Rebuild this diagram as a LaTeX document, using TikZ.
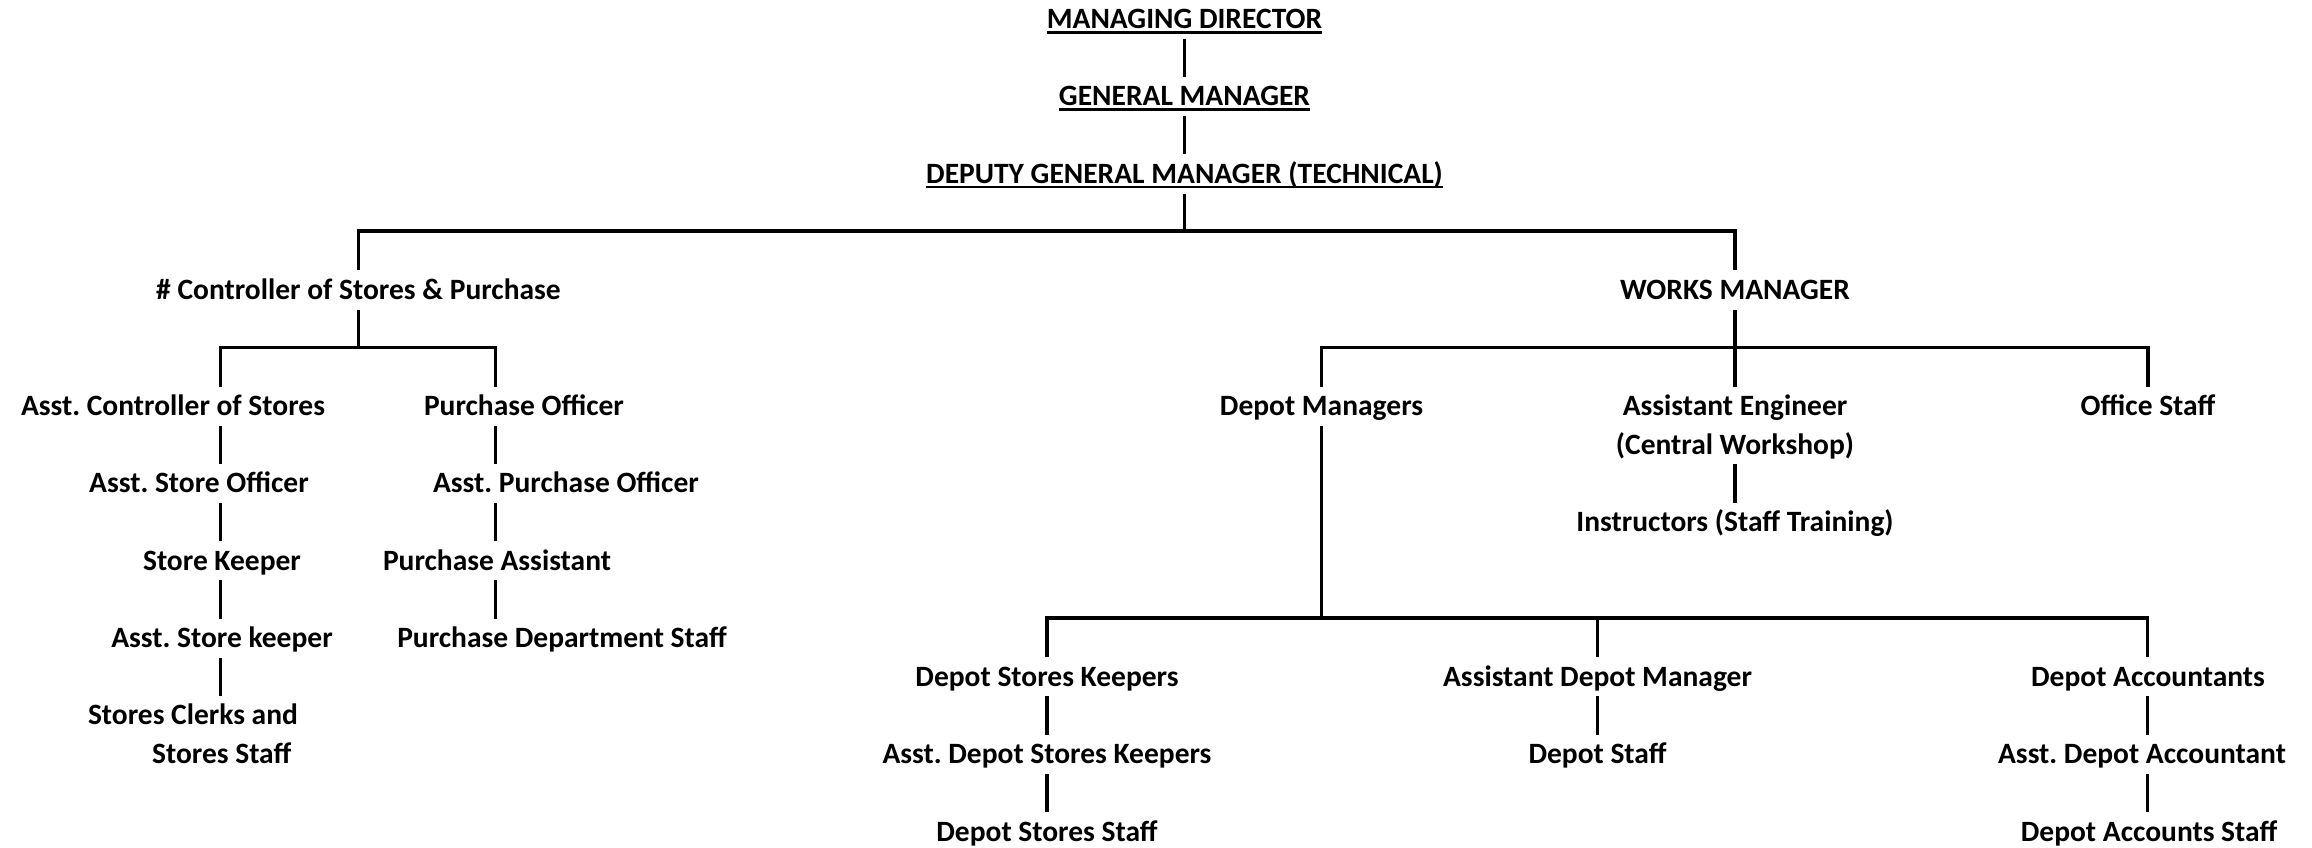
\documentclass[tikz,border=0pt]{standalone}
\usepackage{fontspec}
\setmainfont{Carlito}
\frenchspacing
\begin{document}
\begin{tikzpicture}[x=1pt,y=1pt,
  lbl/.style={inner sep=0pt, text height=28.65pt, text depth=10.05pt,
    font=\fontsize{29.5pt}{38.69pt}\selectfont\bfseries\frenchspacing},
  conn/.style={line width=3.3pt, line join=miter},
  uln/.style={line width=2.7pt}]
\useasboundingbox (0,0) rectangle (2312,-848);
\coordinate (colA) at (220.5,0);
\coordinate (colB) at (495.4,0);
\coordinate (colC) at (2147.7,0);
\coordinate (b1) at (0,-231);
\coordinate (b2) at (0,-347.5);
\coordinate (b3) at (0,-618);
% top
\node[lbl] (md)  at (1184.5,-19.2) {MANAGING DIRECTOR};
\node[lbl] (gm)  at (1184.5,-96.6) {GENERAL MANAGER};
\node[lbl] (dgm) at (1184.5,-174.0) {DEPUTY GENERAL MANAGER (TECHNICAL)};
\node[lbl] (ctrl) at (358.5,-290.0) {\# Controller of Stores \& Purchase};
\node[lbl] (wm)   at (1735,-290.0) {WORKS MANAGER};
% row 10
\node[lbl] (acs) at (173,-406.1) {Asst. Controller of Stores};
\node[lbl] (po)  at (524,-406.1) {Purchase Officer};
\node[lbl] (dm)  at (1321.5,-406.1) {Depot Managers};
\node[lbl] (ae1) at (1735,-406.1) {Assistant Engineer};
\node[lbl] (os)  at (2148,-406.1) {Office Staff};
\node[lbl] (ae2) at (1735,-444.8) {(Central Workshop)};
\node[lbl] (aso) at (199,-483.5) {Asst. Store Officer};
\node[lbl] (apo) at (566,-483.5) {Asst. Purchase Officer};
\node[lbl] (instr) at (1735,-522.2) {Instructors (Staff Training)};
\node[lbl] (sk)  at (222,-560.9) {Store Keeper};
\node[lbl] (pa)  at (497,-560.9) {Purchase Assistant};
\node[lbl] (ask) at (222,-638.2) {Asst. Store keeper};
\node[lbl] (pds) at (562,-638.2) {Purchase Department Staff};
\node[lbl] (dsk) at (1047,-676.9) {Depot Stores Keepers};
\node[lbl] (adm) at (1597.5,-676.9) {Assistant Depot Manager};
\node[lbl] (da)  at (2148,-676.9) {Depot Accountants};
\node[lbl] (sc1) at (193,-715.6) {Stores Clerks and};
\node[lbl] (sc2) at (221.7,-754.3) {Stores Staff};
\node[lbl] (adsk) at (1047,-754.3) {Asst. Depot Stores Keepers};
\node[lbl] (ds)  at (1597.5,-754.3) {Depot Staff};
\node[lbl] (ada) at (2142,-754.3) {Asst. Depot Accountant};
\node[lbl] (dss) at (1047,-831.7) {Depot Stores Staff};
\node[lbl] (das) at (2149,-831.7) {Depot Accounts Staff};
% underlines of the titles
\foreach \n in {md,gm,dgm}
  \draw[uln] ([yshift=-3.8pt]\n.base west) -- ([yshift=-3.8pt]\n.base east);
% connectors
\draw[conn] (md.south) -- (gm.north);
\draw[conn] (gm.south) -- (dgm.north);
\draw[conn] (dgm.south) -- (dgm.south |- b1);
\draw[conn] (ctrl.north) -- (ctrl.north |- b1) -- (wm.north |- b1) -- (wm.north);
\draw[conn] (ctrl.south) -- (ctrl.south |- b2);
\draw[conn] (acs.north -| colA) -- (colA |- b2) -- (colB |- b2) -- (po.north -| colB);
\draw[conn] (acs.south -| colA) -- (aso.north -| colA);
\draw[conn] (aso.south -| colA) -- (sk.north -| colA);
\draw[conn] (sk.south -| colA) -- (ask.north -| colA);
\draw[conn] (ask.south -| colA) -- (sc1.north -| colA);
\draw[conn] (po.south -| colB) -- (apo.north -| colB);
\draw[conn] (apo.south -| colB) -- (pa.north -| colB);
\draw[conn] (pa.south -| colB) -- (pds.north -| colB);
\draw[conn] (wm.south) -- (ae1.north);
\draw[conn] (dm.north) -- (dm.north |- b2) -- (os.north |- b2) -- (os.north);
\draw[conn] (ae2.south) -- (instr.north);
\draw[conn] (dm.south) -- (dm.south |- b3);
\draw[conn] (dsk.north) -- (dsk.north |- b3) -- (colC |- b3) -- (da.north -| colC);
\draw[conn] (adm.north) -- (adm.north |- b3);
\draw[conn] (dsk.south) -- (adsk.north);
\draw[conn] (adsk.south) -- (dss.north);
\draw[conn] (adm.south) -- (ds.north);
\draw[conn] (da.south -| colC) -- (ada.north -| colC);
\draw[conn] (ada.south -| colC) -- (das.north -| colC);
\end{tikzpicture}
\end{document}
